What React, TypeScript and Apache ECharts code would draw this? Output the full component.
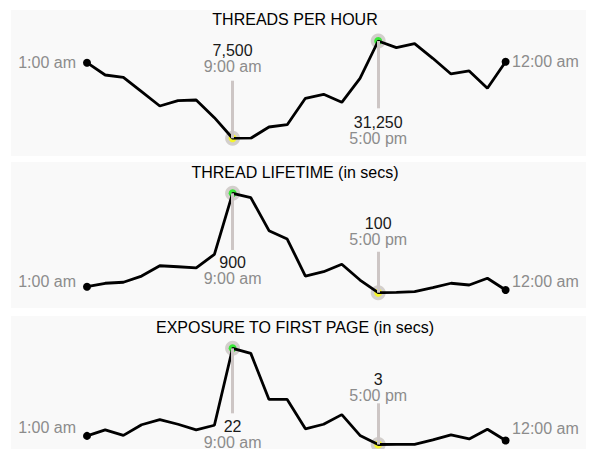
import React, { useEffect, useRef } from 'react';
import * as echarts from 'echarts';

const hours = [
  '1:00 am', '2:00 am', '3:00 am', '4:00 am', '5:00 am', '6:00 am', '7:00 am', '8:00 am',
  '9:00 am', '10:00 am', '11:00 am', '12:00 pm', '1:00 pm', '2:00 pm', '3:00 pm', '4:00 pm',
  '5:00 pm', '6:00 pm', '7:00 pm', '8:00 pm', '9:00 pm', '10:00 pm', '11:00 pm', '12:00 am',
];

const titles = ['THREADS PER HOUR', 'THREAD LIFETIME (in secs)', 'EXPOSURE TO FIRST PAGE (in secs)'];

const threadsPerHour = [
  25950, 22950, 22390, 18880, 15380, 16680, 16850, 12530, 7500, 7520, 10260, 10820,
  17260, 18240, 16290, 22150, 31250, 29620, 30590, 27030, 23200, 23930, 19710, 26200,
];

const threadLifetime = [
  148, 176, 184, 234, 317, 309, 299, 409, 900, 865, 599, 532,
  234, 269, 329, 202, 100, 103, 108, 140, 176, 162, 216, 122,
];

const exposureToFirstPage = [
  4.7, 5.9, 4.8, 6.9, 7.9, 7.0, 5.9, 6.8, 22, 21.0, 11.9, 11.9,
  6.1, 7.0, 8.9, 4.8, 3, 3.02, 3.02, 3.9, 4.9, 4.1, 6.0, 3.8,
];

const seriesValues = [threadsPerHour, threadLifetime, exposureToFirstPage];

// layout / style per panel
const panels = [
  { bg: [11, 10, 575, 146], titleTop: 11.5, gridTop: 41, gridHeight: 97.3, maxFrac: 0.692, minFrac: 0.592, maxDist: 6, minDist: 6, firstDy: 0, lastDy: 0 },
  { bg: [11, 162, 575, 146], titleTop: 164, gridTop: 193.3, gridHeight: 99.4, maxFrac: 0.57, minFrac: 0.412, maxDist: 4.5, minDist: 4.5, firstDy: -5, lastDy: -8 },
  { bg: [11, 316, 575, 140], titleTop: 319, gridTop: 348.3, gridHeight: 96.2, maxFrac: 0.676, minFrac: 0.428, maxDist: 5, minDist: 0, firstDy: -8, lastDy: -12 },
];

const FONT = '"Liberation Sans", Arial, Helvetica, sans-serif';
const fmt = (v: number) => v.toLocaleString('en-US');

export default function App() {
  const ref = useRef<HTMLDivElement>(null);
  useEffect(() => {
    if (!ref.current) return;
    const chart = echarts.init(ref.current, null, { renderer: 'svg' });

    const grids: any[] = [];
    const xAxes: any[] = [];
    const yAxes: any[] = [];
    const series: any[] = [];
    const title: any[] = [];
    const graphics: any[] = [];

    seriesValues.forEach((vals, i) => {
      const p = panels[i];
      const max = Math.max(...vals);
      const min = Math.min(...vals);
      const maxIdx = vals.indexOf(max);
      const minIdx = vals.indexOf(min);
      const range = max - min;
      const last = vals.length - 1;

      graphics.push({
        type: 'rect', silent: true, z: -10,
        shape: { x: p.bg[0], y: p.bg[1], width: p.bg[2], height: p.bg[3] },
        style: { fill: '#f9f9f9' },
      });
      title.push({
        text: titles[i], left: 'center', top: p.titleTop, padding: 0,
        textStyle: { fontFamily: FONT, fontSize: 16, fontWeight: 'normal', color: '#000', lineHeight: 16 },
      });
      grids.push({ left: 87, right: 84.4, top: p.gridTop, height: p.gridHeight });
      xAxes.push({ type: 'category', gridIndex: i, data: hours, boundaryGap: false, show: false });
      yAxes.push({ type: 'value', gridIndex: i, min: 'dataMin', max: 'dataMax', show: false, splitLine: { show: false } });

      const rich = {
        v: { fontFamily: FONT, fontSize: 16, color: '#1a1a1a', lineHeight: 16 },
        t: { fontFamily: FONT, fontSize: 16, color: '#8c8c8c', lineHeight: 16 },
      };

      series.push({
        type: 'scatter', xAxisIndex: i, yAxisIndex: i, z: 1, silent: true,
        symbol: 'circle', symbolSize: 15,
        itemStyle: { color: '#c9c4c1' },
        data: [[maxIdx, max], [minIdx, min]],
        markLine: {
          silent: true, symbol: ['none', 'none'], animation: false,
          lineStyle: { color: '#cdc6c5', width: 3, type: 'solid' },
          data: [
            [
              {
                coord: [maxIdx, max],
                label: { show: true, position: 'end', distance: p.maxDist, formatter: () => `{v|${fmt(max)}}\n{t|${hours[maxIdx]}}`, rich },
              },
              { coord: [maxIdx, max - p.maxFrac * range] },
            ],
            [
              {
                coord: [minIdx, min],
                label: { show: true, position: 'end', distance: p.minDist, formatter: () => `{v|${fmt(min)}}\n{t|${hours[minIdx]}}`, rich },
              },
              { coord: [minIdx, min + p.minFrac * range] },
            ],
          ],
        },
      });
      series.push({
        type: 'scatter', xAxisIndex: i, yAxisIndex: i, z: 2, silent: true,
        symbol: 'circle', symbolSize: 8,
        data: [
          { value: [maxIdx, max], itemStyle: { color: '#11ee11' } },
          { value: [minIdx, min], itemStyle: { color: '#ffff00' } },
        ],
      });
      series.push({
        type: 'line', xAxisIndex: i, yAxisIndex: i, z: 3, silent: true,
        symbol: 'circle', symbolSize: 8, showSymbol: true, showAllSymbol: true,
        lineStyle: { color: '#000', width: 2.8 },
        itemStyle: { color: '#000' },
        emphasis: { disabled: true },
        data: vals.map((v, k) => {
          if (k === 0) {
            return {
              value: v,
              label: { show: true, position: 'left', distance: 7, offset: [0, p.firstDy], formatter: () => hours[0], fontFamily: FONT, fontSize: 16, color: '#8c8c8c' },
            };
          }
          if (k === last) {
            return {
              value: v,
              label: { show: true, position: 'right', distance: 2.5, offset: [0, p.lastDy], formatter: () => hours[last], fontFamily: FONT, fontSize: 16, color: '#8c8c8c' },
            };
          }
          return { value: v, symbol: 'none' };
        }),
      });
    });

    chart.setOption({
      animation: false,
      backgroundColor: '#ffffff',
      title,
      grid: grids,
      xAxis: xAxes,
      yAxis: yAxes,
      series,
      graphic: graphics,
      tooltip: { show: false },
    });
    return () => chart.dispose();
  }, []);

  return <div ref={ref} style={{ position: 'absolute', left: 0, top: 0, width: 590, height: 449 }} />;
}
